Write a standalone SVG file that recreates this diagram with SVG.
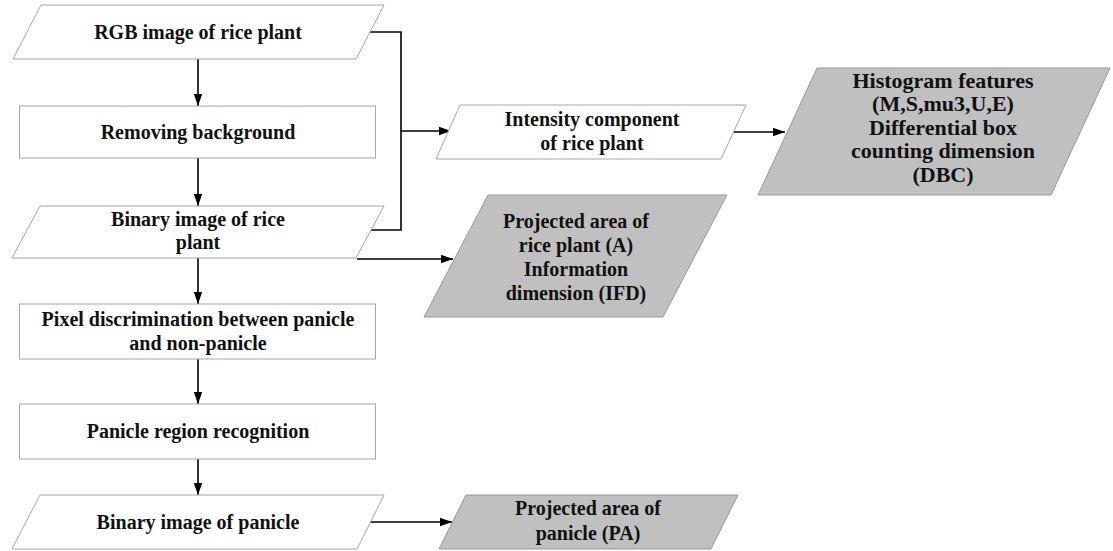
<svg xmlns="http://www.w3.org/2000/svg" width="1113" height="551" viewBox="0 0 1113 551">
<defs>
<style>
.n{fill:#fff;stroke:#a6a6a6;stroke-width:1}
.g{fill:#c0c0c0;stroke:#999;stroke-width:1}
.t{font-family:"Liberation Serif","Times New Roman",serif;font-weight:bold;font-size:20px;fill:#111;text-anchor:middle}
.h{font-size:22px}
.c{fill:none;stroke:#000;stroke-width:1.6}
</style>
<marker id="ah" viewBox="0 0 12 10" refX="12" refY="5" markerWidth="12" markerHeight="10" markerUnits="userSpaceOnUse" orient="auto">
<path d="M0,0.8 L12,5 L0,9.2 Z" fill="#000"/>
</marker>
</defs>
<rect width="1113" height="551" fill="#fff"/>
<g id="connectors">
<path class="c" d="M198,59 V106" marker-end="url(#ah)"/>
<path class="c" d="M198,158 V206" marker-end="url(#ah)"/>
<path class="c" d="M198,258 V304" marker-end="url(#ah)"/>
<path class="c" d="M198,359 V404" marker-end="url(#ah)"/>
<path class="c" d="M198,459 V495" marker-end="url(#ah)"/>
<path class="c" d="M370,32 H401 V230 H371"/>
<path class="c" d="M401,131 H451" marker-end="url(#ah)"/>
<path class="c" d="M733,132 H785" marker-end="url(#ah)"/>
<path class="c" d="M357,259 H453" marker-end="url(#ah)"/>
<path class="c" d="M370,522 H452" marker-end="url(#ah)"/>
</g>
<g id="rgb">
<polygon class="n" points="41,5 384,5 356,59 13,59"/>
<text class="t" x="198" y="39">RGB image of rice plant</text>
</g>
<g id="removing">
<rect class="n" x="19.5" y="106" width="356" height="52"/>
<text class="t" x="198" y="139">Removing background</text>
</g>
<g id="binary-rice">
<polygon class="n" points="40,206 384,206 356,258 12,258"/>
<text class="t" x="198" y="226">Binary image of rice</text>
<text class="t" x="198" y="249">plant</text>
</g>
<g id="pixel">
<rect class="n" x="19.5" y="304" width="356" height="55"/>
<text class="t" x="198" y="326">Pixel discrimination between panicle</text>
<text class="t" x="198" y="350">and non-panicle</text>
</g>
<g id="panicle-region">
<rect class="n" x="19.5" y="404" width="356" height="55"/>
<text class="t" x="198" y="438">Panicle region recognition</text>
</g>
<g id="binary-panicle">
<polygon class="n" points="40,495 384,495 357,549 12,549"/>
<text class="t" x="198" y="529">Binary image of panicle</text>
</g>
<g id="intensity">
<polygon class="n" points="460,105 746,105 721,159 436,159"/>
<text class="t" x="592" y="126">Intensity component</text>
<text class="t" x="592" y="150">of rice plant</text>
</g>
<g id="histogram">
<polygon class="g" points="817,68 1110,68 1051,195 758,195"/>
<text class="t h" x="943" y="88">Histogram features</text>
<text class="t h" x="943" y="111">(M,S,mu3,U,E)</text>
<text class="t h" x="943" y="135">Differential box</text>
<text class="t h" x="943" y="158">counting dimension</text>
<text class="t h" x="943" y="182">(DBC)</text>
</g>
<g id="projected-a">
<polygon class="g" points="488,195 727,195 663,317 424,317"/>
<text class="t" x="576" y="228">Projected area of</text>
<text class="t" x="576" y="252">rice plant (A)</text>
<text class="t" x="576" y="276">Information</text>
<text class="t" x="576" y="300">dimension (IFD)</text>
</g>
<g id="projected-pa">
<polygon class="g" points="466,495 738,495 711,549 439,549"/>
<text class="t" x="588" y="515">Projected area of</text>
<text class="t" x="588" y="540">panicle (PA)</text>
</g>
</svg>
